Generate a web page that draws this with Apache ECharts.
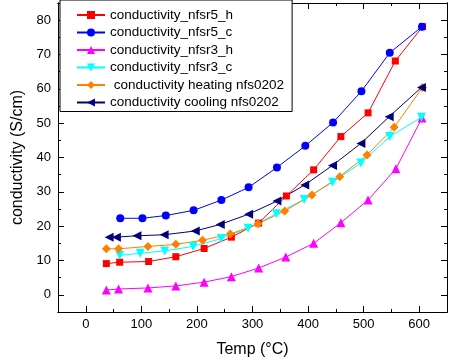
<!DOCTYPE html>
<html>
<head>
<meta charset="utf-8">
<script src="https://cdn.jsdelivr.net/npm/echarts@6/dist/echarts.min.js"></script>
<style>
  html, body { margin: 0; padding: 0; background: #fff; }
  #chart { width: 450px; height: 364px; }
</style>
</head>
<body>
<div id="chart"></div>
<script>
// Temperatures (°C) and conductivities (S/cm) for each sample run
const tempNfsr5H = [37, 61, 113, 162, 213, 262, 311, 361, 410, 459, 508, 557, 606];
const condNfsr5H = [9.1, 9.5, 9.7, 11.1, 13.5, 16.8, 20.9, 28.8, 36.4, 46.1, 53.0, 68.1, 78.1];

const tempNfsr5C = [62, 102, 144, 194, 244, 293, 344, 395, 445, 496, 547, 605];
const condNfsr5C = [22.3, 22.3, 23.1, 24.6, 27.6, 31.3, 37.1, 43.4, 50.2, 59.3, 70.5, 78.1];

const tempNfsr3H = [37, 59, 112, 162, 213, 262, 311, 360, 410, 459, 508, 558, 605];
const condNfsr3H = [1.4, 1.7, 2.0, 2.6, 3.7, 5.3, 7.8, 11.0, 15.0, 21.0, 27.6, 36.7, 51.5];

const tempNfsr3C = [61, 98, 142, 193, 244, 292, 343, 393, 444, 495, 547, 604];
const condNfsr3C = [11.5, 12.1, 12.8, 14.1, 16.4, 19.4, 23.6, 27.8, 32.8, 38.4, 46.1, 51.7];

const tempHeat0202 = [37, 59, 112, 162, 210, 260, 310, 358, 407, 457, 506, 555, 606];
const condHeat0202 = [13.4, 13.4, 14.1, 14.7, 15.9, 17.7, 20.7, 24.4, 29.1, 34.4, 40.7, 48.8, 60.4];

const tempCool0202 = [42, 55, 92, 141, 197, 242, 293, 344, 394, 444, 495, 546, 604];
const condCool0202 = [16.8, 16.8, 17.2, 17.5, 18.6, 20.5, 23.5, 27.3, 32.0, 37.7, 44.1, 51.9, 60.4];

// Axis tick values
const xMajorTicks = [0, 100, 200, 300, 400, 500, 600];
const xMinorTicks = [50, 150, 250, 350, 450, 550];
const yMajorTicks = [0, 10, 20, 30, 40, 50, 60, 70, 80];
const yMinorTicks = [5, 15, 25, 35, 45, 55, 65, 75];

const FONT = '"Liberation Sans", Arial, sans-serif';

function pairs(xs, ys) {
  return xs.map((x, i) => [x, ys[i]]);
}

function sideAxis(kind, position, ticks, len, labels, extra) {
  const range = kind === 'x' ? { min: -50, max: 650 } : { min: -5, max: 85 };
  return Object.assign({
    type: 'value',
    position: position,
    min: range.min,
    max: range.max,
    splitLine: { show: false },
    axisLine: { show: true, onZero: false, lineStyle: { color: '#000', width: 1 } },
    axisTick: { show: true, inside: true, length: len, customValues: ticks,
                lineStyle: { color: '#000', width: 1 } },
    axisLabel: labels
      ? { show: true, customValues: ticks, color: '#000', fontSize: 13, fontFamily: FONT,
          margin: kind === 'x' ? 6 : 7 }
      : { show: false },
    minorTick: { show: false }
  }, extra || {});
}

const seriesDefs = [
  { name: 'conductivity_nfsr5_h', t: tempNfsr5H, c: condNfsr5H, color: '#ff0000', symbol: 'rect', size: 7, rot: 0 },
  { name: 'conductivity_nfsr5_c', t: tempNfsr5C, c: condNfsr5C, color: '#0000ff', symbol: 'circle', size: 8, rot: 0 },
  { name: 'conductivity_nfsr3_h', t: tempNfsr3H, c: condNfsr3H, color: '#ff00ff', symbol: 'triangle', size: 9, rot: 0 },
  { name: 'conductivity_nfsr3_c', t: tempNfsr3C, c: condNfsr3C, color: '#00ffff', symbol: 'triangle', size: 9, rot: 180 },
  { name: ' conductivity heating nfs0202', t: tempHeat0202, c: condHeat0202, color: '#ff8000', symbol: 'diamond', size: 9, rot: 0 },
  { name: 'conductivity cooling nfs0202', t: tempCool0202, c: condCool0202, color: '#000080', symbol: 'triangle', size: 9, rot: 90 }
];

const chart = echarts.init(document.getElementById('chart'), null, { renderer: 'canvas' });

chart.setOption({
  animation: false,
  backgroundColor: '#fff',
  grid: { left: 58, right: 3, top: 3, bottom: 52, containLabel: false },
  legend: {
    orient: 'vertical',
    left: 60,
    top: 0,
    padding: [8, 8, 2, 16],
    itemGap: 3.5,
    itemWidth: 28,
    itemHeight: 10,
    backgroundColor: '#fff',
    borderColor: '#000',
    borderWidth: 1,
    borderRadius: 0,
    textStyle: { color: '#000', fontSize: 13.5, fontFamily: FONT },
    data: seriesDefs.map(s => s.name)
  },
  xAxis: [
    sideAxis('x', 'bottom', xMajorTicks, 6, true, {
      name: 'Temp (°C)', nameLocation: 'middle', nameGap: 30,
      nameTextStyle: { color: '#000', fontSize: 16, fontFamily: FONT }
    }),
    sideAxis('x', 'bottom', xMinorTicks, 3, false),
    sideAxis('x', 'top', xMajorTicks, 6, false),
    sideAxis('x', 'top', xMinorTicks, 3, false)
  ],
  yAxis: [
    sideAxis('y', 'left', yMajorTicks, 6, true, {
      name: 'conductivity (S/cm)', nameLocation: 'middle', nameGap: 31,
      nameTextStyle: { color: '#000', fontSize: 16, fontFamily: FONT }
    }),
    sideAxis('y', 'left', yMinorTicks, 3, false),
    sideAxis('y', 'right', yMajorTicks, 6, false),
    sideAxis('y', 'right', yMinorTicks, 3, false)
  ],
  series: seriesDefs.map(s => ({
    name: s.name,
    type: 'line',
    xAxisIndex: 0,
    yAxisIndex: 0,
    data: pairs(s.t, s.c),
    symbol: s.symbol,
    symbolSize: s.size,
    symbolRotate: s.rot,
    showAllSymbol: true,
    lineStyle: { color: s.color, width: 1 },
    itemStyle: { color: s.color, borderWidth: 0 },
    emphasis: { disabled: true }
  }))
});
</script>
</body>
</html>
